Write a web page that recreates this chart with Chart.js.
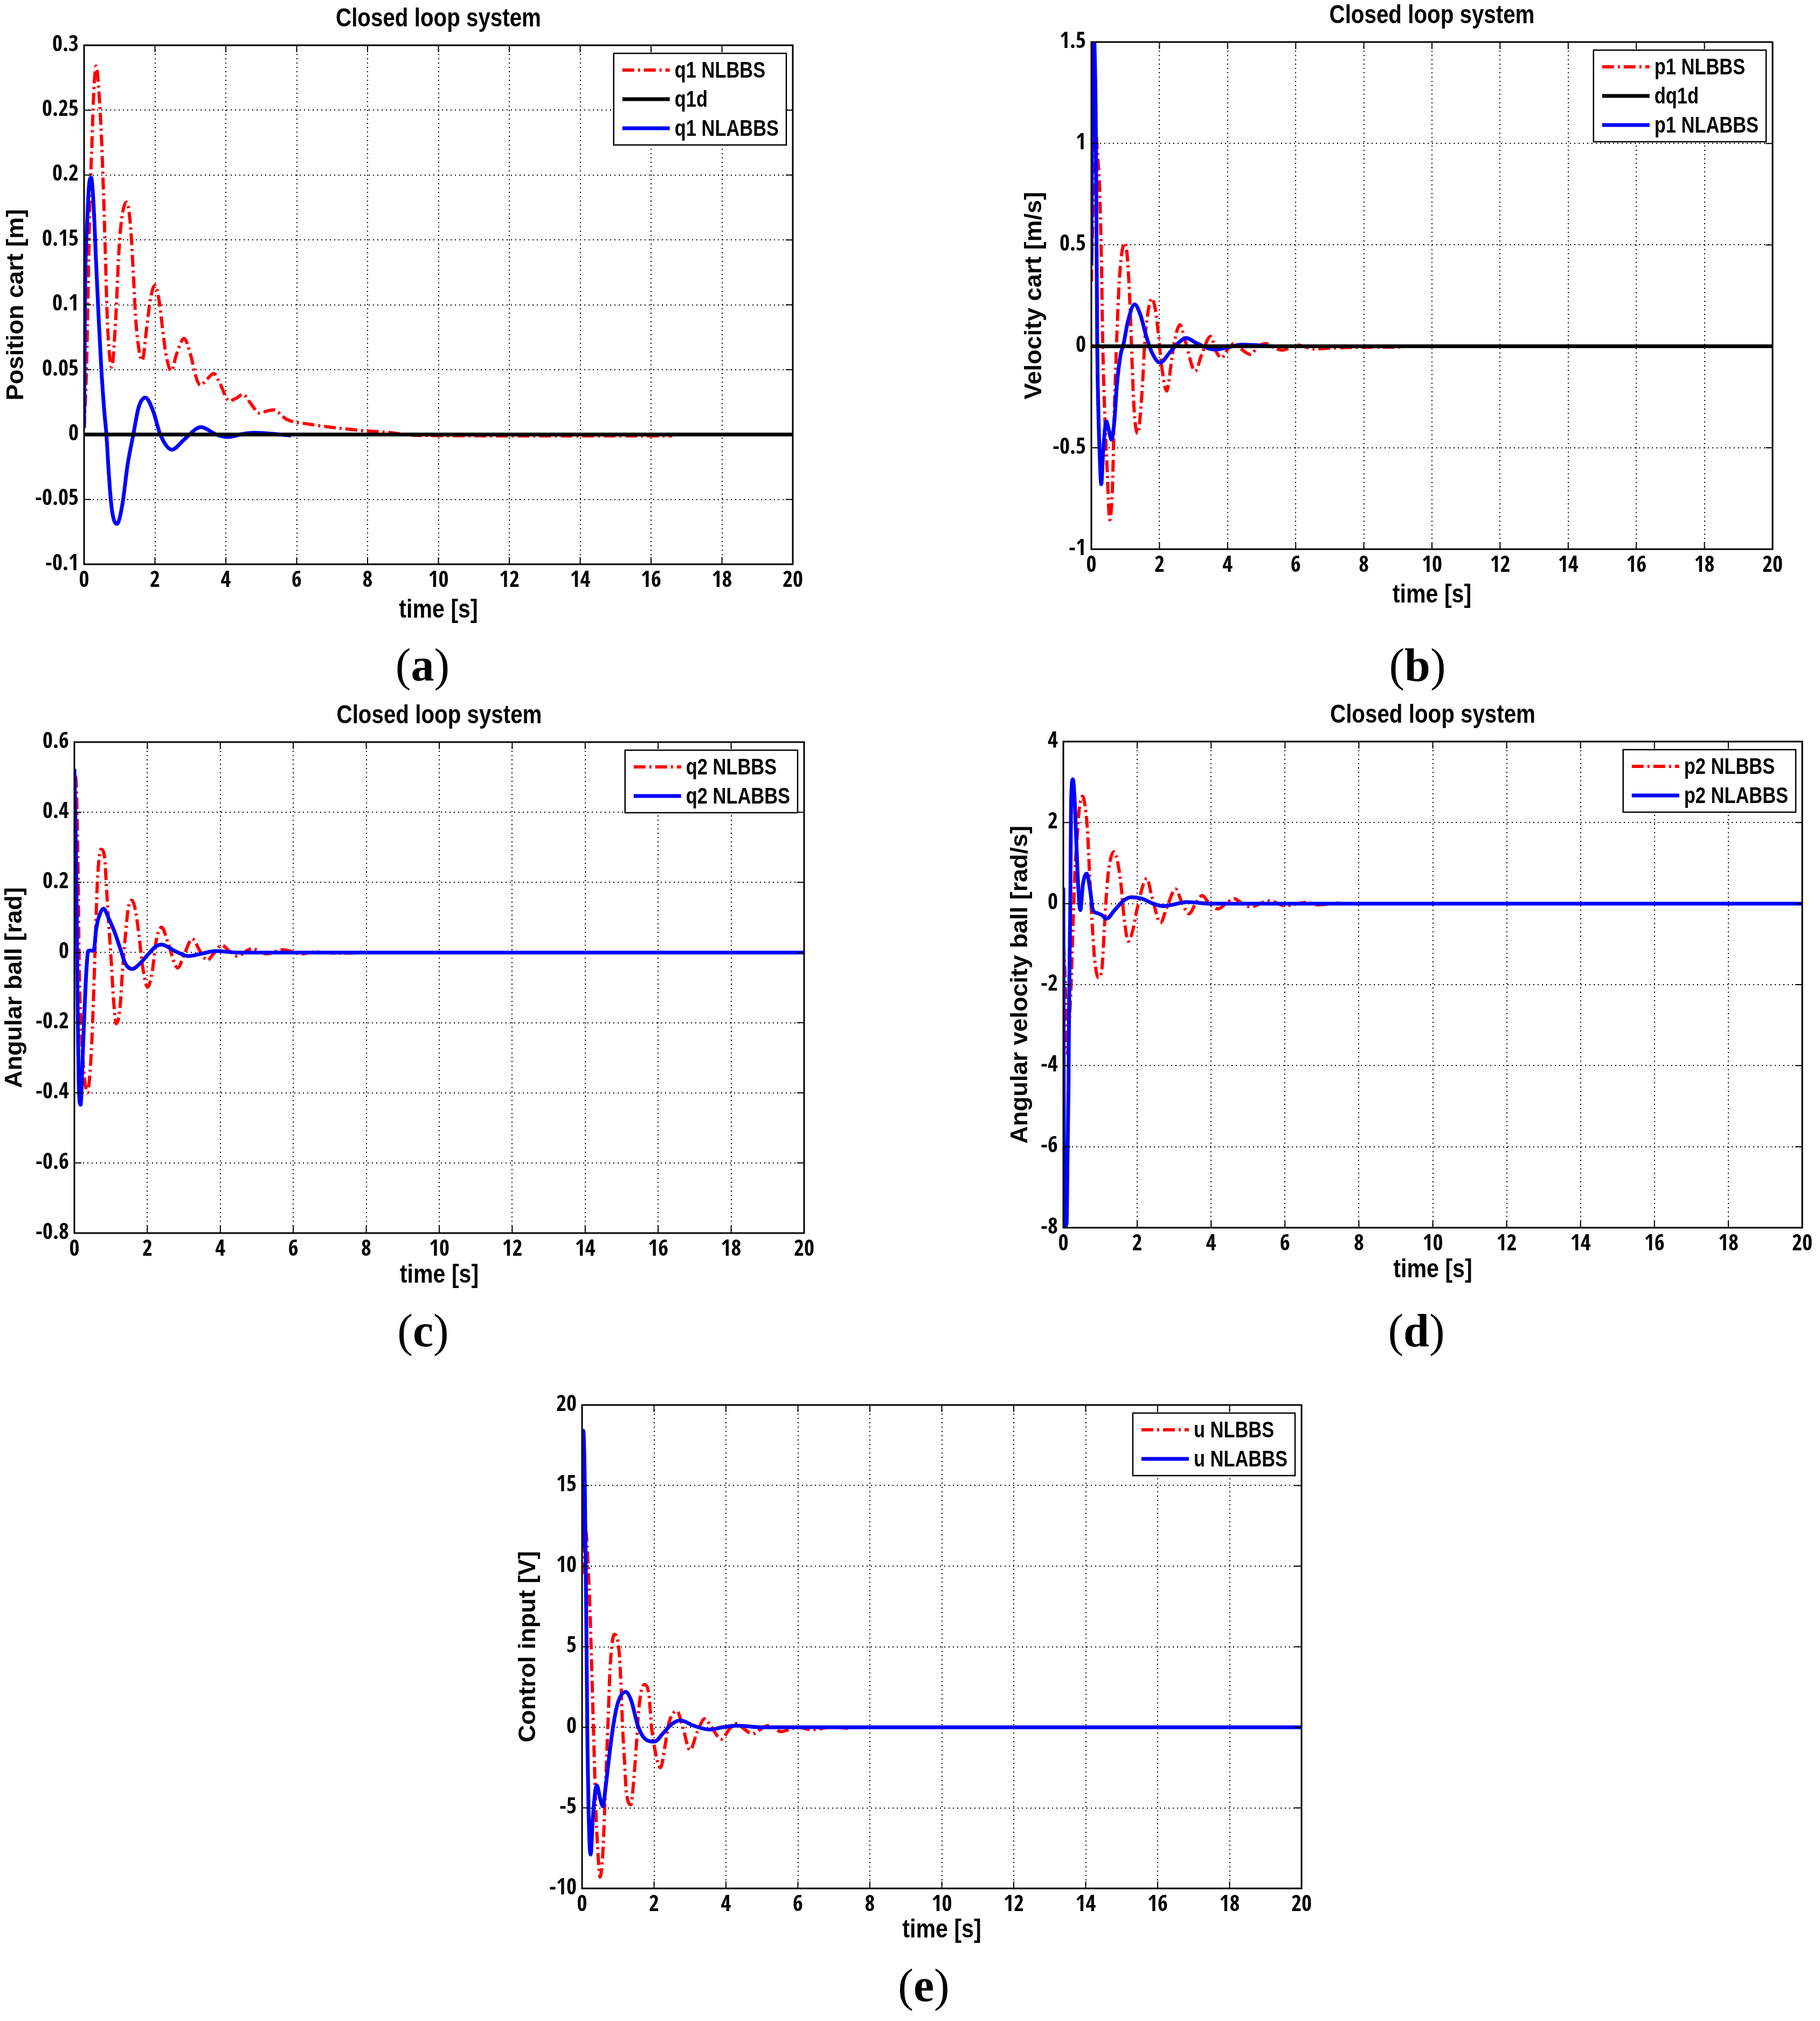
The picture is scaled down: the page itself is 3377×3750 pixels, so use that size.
<!DOCTYPE html>
<html><head><meta charset="utf-8">
<script src="https://cdn.jsdelivr.net/npm/chart.js@4.4.1/dist/chart.umd.min.js"></script>
<style>
html,body{margin:0;padding:0;background:#fff;}
#page{position:relative;width:3377px;height:3750px;background:#fff;overflow:hidden;}
#page canvas{position:absolute;}
.lbl{position:absolute;font-family:'Liberation Serif','DejaVu Serif',serif;font-size:86px;line-height:86px;color:#000;transform:translateX(-50%);white-space:nowrap;z-index:5;}
.lbl b{font-weight:bold;}
</style></head><body><div id="page"></div>
<script>
// ---------------- DATA ----------------
const xTicks = [0,2,4,6,8,10,12,14,16,18,20];
const yTicksA = [-0.1,-0.05,0,0.05,0.1,0.15,0.2,0.25,0.3];
const yTicksB = [-1,-0.5,0,0.5,1,1.5];
const yTicksC = [-0.8,-0.6,-0.4,-0.2,0,0.2,0.4,0.6];
const yTicksD = [-8,-6,-4,-2,0,2,4];
const yTicksE = [-10,-5,0,5,10,15,20];

// (a) position cart [m]
const q1NLBBS = [[0,0.005],[0.07,0.052],[0.12,0.119],[0.16,0.176],[0.22,0.223],[0.27,0.262],[0.34,0.284],[0.42,0.264],[0.5,0.223],[0.55,0.184],[0.6,0.14],[0.65,0.093],[0.7,0.067],[0.78,0.052],[0.9,0.093],[0.98,0.14],[1.06,0.166],[1.2,0.179],[1.31,0.161],[1.39,0.124],[1.46,0.088],[1.54,0.067],[1.64,0.057],[1.77,0.083],[1.87,0.104],[2.0,0.115],[2.13,0.101],[2.2,0.085],[2.31,0.062],[2.46,0.049],[2.61,0.062],[2.82,0.074],[3.02,0.06],[3.15,0.045],[3.28,0.038],[3.48,0.043],[3.66,0.047],[3.84,0.039],[4.09,0.026],[4.3,0.028],[4.48,0.031],[4.7,0.024],[4.95,0.0165],[5.15,0.018],[5.34,0.019],[5.73,0.0115],[6.35,0.008],[6.97,0.0056],[7.75,0.0033],[8.53,0.0017],[9.46,-0.0007],[12,-0.001],[16.6,-0.001]];
const q1d = [[0,0],[20,0]];
const q1NLABBS = [[0,0.005],[0.03,0.114],[0.08,0.158],[0.14,0.192],[0.2,0.198],[0.26,0.181],[0.34,0.132],[0.42,0.085],[0.49,0.049],[0.57,0.018],[0.63,0],[0.7,-0.031],[0.78,-0.057],[0.93,-0.069],[1.08,-0.054],[1.23,-0.023],[1.39,0],[1.54,0.021],[1.73,0.0285],[1.95,0.018],[2.15,0],[2.48,-0.0117],[2.82,-0.004],[3.3,0.0057],[3.73,0],[4.04,-0.002],[4.5,0.0005],[4.8,0.0013],[5.84,-0.0008]];

// (b) velocity cart [m/s]
const p1NLBBS = [[0,0.32],[0.05,0.7],[0.1,1.1],[0.18,0.95],[0.25,0.74],[0.3,0.38],[0.33,0.057],[0.38,-0.27],[0.46,-0.59],[0.54,-0.855],[0.62,-0.69],[0.67,-0.35],[0.75,0.057],[0.83,0.35],[0.99,0.51],[1.07,0.41],[1.15,0.14],[1.2,-0.1],[1.25,-0.3],[1.36,-0.43],[1.49,-0.22],[1.57,0.024],[1.65,0.155],[1.78,0.236],[1.89,0.17],[1.97,0.057],[2.07,-0.106],[2.21,-0.22],[2.34,-0.09],[2.44,0.024],[2.6,0.106],[2.76,0.024],[3.05,-0.122],[3.24,-0.04],[3.5,0.049],[3.66,-0.024],[3.82,-0.057],[4.03,-0.008],[4.22,0.016],[4.45,-0.02],[4.67,-0.04],[4.9,0.0],[5.13,0.013],[5.35,-0.005],[5.6,-0.019],[6.06,0.006],[6.52,-0.013],[7.1,-0.008],[8.0,-0.005],[9.07,-0.004]];
const dq1d = [[0,0],[20,0]];
const p1NLABBS = [[0,0.4],[0.05,1.6],[0.09,1.5],[0.13,1.11],[0.15,0.61],[0.17,0.057],[0.21,-0.35],[0.25,-0.56],[0.29,-0.68],[0.35,-0.51],[0.44,-0.37],[0.51,-0.41],[0.59,-0.46],[0.67,-0.38],[0.75,-0.19],[0.86,-0.04],[0.94,0.008],[1.07,0.12],[1.27,0.207],[1.44,0.155],[1.6,0.057],[1.76,-0.024],[2.02,-0.081],[2.29,-0.033],[2.5,0.008],[2.79,0.041],[3.08,0.016],[3.61,-0.016],[4.14,0],[4.4,0.008],[5.4,0]];

// (c) angular ball [rad]
const q2NLBBS = [[0,0.5],[0.035,0.5],[0.085,0.34],[0.11,0.16],[0.13,-0.023],[0.18,-0.2],[0.26,-0.34],[0.36,-0.4],[0.43,-0.34],[0.48,-0.25],[0.53,-0.11],[0.58,0.05],[0.63,0.2],[0.73,0.294],[0.83,0.27],[0.88,0.185],[0.95,0.068],[1.02,-0.04],[1.07,-0.13],[1.15,-0.203],[1.25,-0.158],[1.32,-0.05],[1.4,0.05],[1.47,0.122],[1.57,0.149],[1.67,0.122],[1.77,0.05],[1.87,-0.04],[2.01,-0.099],[2.14,-0.05],[2.24,0.032],[2.39,0.072],[2.58,0.023],[2.83,-0.044],[3.03,0],[3.23,0.039],[3.44,0.005],[3.64,-0.022],[3.84,0],[4.04,0.021],[4.25,0.004],[4.45,-0.01],[4.87,0.011],[5.27,-0.004],[5.71,0.008],[6.22,-0.004],[6.6,0.002],[7.2,-0.002],[8.3,0]];
const q2NLABBS = [[0,0.524],[0.05,0.25],[0.085,-0.11],[0.12,-0.38],[0.17,-0.434],[0.23,-0.29],[0.28,-0.16],[0.33,-0.05],[0.38,0.005],[0.53,0.006],[0.6,0.068],[0.68,0.104],[0.8,0.125],[0.95,0.095],[1.1,0.059],[1.25,0.0135],[1.4,-0.032],[1.59,-0.047],[1.79,-0.032],[1.99,-0.009],[2.24,0.018],[2.39,0.0226],[2.78,0.003],[3.13,-0.01],[3.5,-0.003],[3.86,0.004],[4.5,0],[20,0]];

// (d) angular velocity ball [rad/s]
const p2NLBBS = [[0,-1.0],[0.04,-1.6],[0.11,-3.7],[0.16,-2.96],[0.21,-2.0],[0.26,-0.62],[0.31,0.7],[0.38,1.71],[0.43,2.33],[0.52,2.65],[0.61,2.26],[0.66,1.71],[0.7,0.93],[0.75,0],[0.8,-0.78],[0.85,-1.4],[0.95,-1.83],[1.05,-1.56],[1.1,-0.78],[1.15,0],[1.22,0.78],[1.37,1.28],[1.49,0.93],[1.57,0.39],[1.64,-0.31],[1.76,-0.93],[1.89,-0.62],[1.99,-0.16],[2.26,0.62],[2.4,0.16],[2.63,-0.47],[2.8,-0.1],[3.04,0.36],[3.2,0.05],[3.4,-0.25],[3.58,0],[3.76,0.2],[3.95,0],[4.19,-0.13],[4.4,0],[4.63,0.12],[4.85,0],[5.06,-0.08],[5.57,0.07],[6.0,-0.05],[6.58,0.03],[6.9,-0.03],[7.45,0.02]];
const p2NLABBS = [[0,0.39],[0.025,-7.98],[0.09,-7.9],[0.11,-6.5],[0.14,-4.5],[0.16,-2.2],[0.19,0.16],[0.21,2.5],[0.26,3.07],[0.31,2.49],[0.36,1.32],[0.41,0.31],[0.46,-0.16],[0.53,0.47],[0.63,0.74],[0.73,0.31],[0.8,-0.16],[0.9,-0.23],[1.02,-0.27],[1.17,-0.37],[1.39,-0.16],[1.64,0.08],[1.84,0.16],[2.13,0.12],[2.43,0],[2.7,-0.06],[3.0,-0.02],[3.33,0.04],[4.0,0],[20,0]];

// (e) control input [V]
const uNLBBS = [[0,9.5],[0.1,12.2],[0.18,9.5],[0.23,6.6],[0.28,2.75],[0.33,-1.1],[0.38,-5.0],[0.43,-7.3],[0.5,-9.3],[0.58,-7.7],[0.63,-5.0],[0.68,-2.1],[0.73,0.8],[0.78,3.7],[0.9,5.76],[1.03,4.7],[1.08,2.75],[1.13,-0.15],[1.18,-2.1],[1.23,-4.0],[1.36,-4.8],[1.43,-3.45],[1.51,-1.1],[1.58,1.2],[1.73,2.65],[1.86,2.0],[1.93,0.04],[2.0,-1.1],[2.18,-2.5],[2.31,-1.1],[2.41,0.23],[2.64,1.0],[2.8,0],[3.0,-1.42],[3.2,-0.3],[3.41,0.53],[3.6,0],[3.87,-0.74],[4.1,-0.1],[4.3,0.23],[4.5,-0.1],[4.73,-0.4],[5.17,0.1],[5.53,-0.27],[6.0,0],[6.39,-0.15],[6.9,0],[7.4,-0.05]];
const uNLABBS = [[0,11.1],[0.035,18.4],[0.075,15.3],[0.1,10.5],[0.126,4.7],[0.15,-1.1],[0.18,-5.0],[0.21,-7.3],[0.24,-7.9],[0.3,-5.6],[0.41,-3.6],[0.5,-4.4],[0.58,-4.9],[0.65,-3.8],[0.75,-1.9],[0.85,-0.15],[0.98,1.4],[1.21,2.2],[1.36,1.7],[1.56,0.04],[1.76,-0.74],[2.01,-0.89],[2.26,-0.35],[2.51,0.23],[2.74,0.43],[3.1,0.1],[3.55,-0.14],[3.9,0],[4.3,0.1],[5,0],[20,0]];

// ---------------- FONTS ----------------
const LIB="'Liberation Sans', Arial, sans-serif";
const probe=document.createElement('canvas').getContext('2d');
function measure(font,s){ probe.font='10px monospace'; probe.font=font; if(probe.font.indexOf('monospace')>=0 && font.indexOf('monospace')<0) return null; return probe.measureText(s).width; }
function hasFamily(name){
  const s='q1 NLABBS 0123456789 Closed';
  return measure("bold 40px monospace",s)!==measure("bold 40px '"+name+"', monospace",s) ||
         measure("bold 40px serif",s)!==measure("bold 40px '"+name+"', serif",s);
}
// choose the narrowest bold sans face available for the tick labels
let TICKFONT={family:LIB, size:37, weight:'bold', lineHeight:1};
(function(){
  const cands=[];
  ['Liberation Sans Narrow','Arial Narrow','Roboto Condensed','Noto Sans Condensed','Open Sans Condensed','Noto Sans SemiCondensed','Liberation Sans'].forEach(f=>{ if(hasFamily(f)) cands.push({family:"'"+f+"'", weight:'bold'}); });
  ['Open Sans','Noto Sans','Roboto'].forEach(f=>{ if(hasFamily(f)) cands.push({family:"'"+f+"'", weight:'condensed bold'}); });
  let best=null;
  cands.forEach(c=>{
    const wd=measure(c.weight+' 42px '+c.family,'0.25');
    if(!wd) return;
    const s=42*68/wd;
    if(!best || s>best.s) best={c,s};
  });
  if(best){ TICKFONT={family:best.c.family+", "+LIB, size:Math.min(44,Math.round(best.s)), weight:best.c.weight, lineHeight:1}; }
})();

// ---------------- STYLES ----------------
const STYLE = {
  red:  {borderColor:'#ff0000', borderWidth:6, borderDash:[22,7,4,7], order:3},
  black:{borderColor:'#000000', borderWidth:7, borderDash:[], order:1},
  blue: {borderColor:'#0000ff', borderWidth:7, borderDash:[], order:2}
};

const PANELS = [
  {letter:'a', canvas:[0,0,1700,1290], plot:[156,84,1471,1047], yTicks:yTicksA, title:'Closed loop system', yTitle:'Position cart [m]', yTitleX:31, xTitleDy:85,
   series:[{label:'q1 NLBBS',data:q1NLBBS,kind:'red'},{label:'q1d',data:q1d,kind:'black'},{label:'q1 NLABBS',data:q1NLABBS,kind:'blue'}], lbl:[784,1243]},
  {letter:'b', canvas:[1700,0,1677,1290], plot:[2025,78,3289,1019], yTicks:yTicksB, title:'Closed loop system', yTitle:'Velocity cart [m/s]', yTitleX:1920, xTitleDy:85,
   series:[{label:'p1 NLBBS',data:p1NLBBS,kind:'red'},{label:'dq1d',data:dq1d,kind:'black'},{label:'p1 NLABBS',data:p1NLABBS,kind:'blue'}], lbl:[2630,1243]},
  {letter:'c', canvas:[0,1290,1700,1260], plot:[138,1377,1492,2288], yTicks:yTicksC, title:'Closed loop system', yTitle:'Angular ball [rad]', yTitleX:28, xTitleDy:78,
   series:[{label:'q2 NLBBS',data:q2NLBBS,kind:'red'},{label:'q2 NLABBS',data:q2NLABBS,kind:'blue'}], lbl:[785,2478]},
  {letter:'d', canvas:[1700,1290,1677,1260], plot:[1973,1376,3344,2278], yTicks:yTicksD, title:'Closed loop system', yTitle:'Angular velocity ball [rad/s]', yTitleX:1894, xTitleDy:78,
   series:[{label:'p2 NLBBS',data:p2NLBBS,kind:'red'},{label:'p2 NLABBS',data:p2NLABBS,kind:'blue'}], lbl:[2628,2478]},
  {letter:'e', canvas:[700,2560,2000,1190], plot:[1080,2607,2415,3504], yTicks:yTicksE, title:null, yTitle:'Control input [V]', yTitleX:981, xTitleDy:77,
   series:[{label:'u NLBBS',data:uNLBBS,kind:'red'},{label:'u NLABBS',data:uNLABBS,kind:'blue'}], lbl:[1714,3693]}
];

const page=document.getElementById('page');

// horizontally condensed bold text (MATLAB-style Helvetica Narrow look)
function narrowText(ctx,txt,x,y,size,sx,align){
  ctx.save();
  ctx.translate(x,y); ctx.scale(sx,1);
  ctx.font='bold '+size+'px '+LIB;
  ctx.textAlign=align; ctx.textBaseline='middle';
  ctx.fillText(txt,0,0);
  ctx.restore();
}
function narrowWidth(ctx,txt,size,sx){ ctx.save(); ctx.font='bold '+size+'px '+LIB; const w=ctx.measureText(txt).width*sx; ctx.restore(); return w; }

function framePlugin(p){
  const cx=p.canvas[0];
  return {
    id:'frame'+p.letter,
    afterDraw(chart){
      const ctx=chart.ctx, a=chart.chartArea, xs=chart.scales.x, ys=chart.scales.y;
      ctx.save();
      ctx.setLineDash([]);
      ctx.strokeStyle='#000';
      const TL=13;
      ctx.lineWidth=2;
      ctx.beginPath();
      xTicks.forEach(v=>{const px=xs.getPixelForValue(v);
        ctx.moveTo(px,a.bottom); ctx.lineTo(px,a.bottom-TL);
        ctx.moveTo(px,a.top); ctx.lineTo(px,a.top+TL);});
      p.yTicks.forEach(v=>{const py=ys.getPixelForValue(v);
        ctx.moveTo(a.left,py); ctx.lineTo(a.left+TL,py);
        ctx.moveTo(a.right,py); ctx.lineTo(a.right-TL,py);});
      ctx.stroke();
      ctx.lineWidth=3;
      ctx.strokeRect(a.left,a.top,a.right-a.left,a.bottom-a.top);
      ctx.fillStyle='#000';
      if(p.title) narrowText(ctx,p.title,(a.left+a.right)/2,a.top-48,48,0.84,'center');
      narrowText(ctx,'time [s]',(a.left+a.right)/2,a.bottom+p.xTitleDy,49,0.84,'center');
      ctx.save();
      ctx.translate(p.yTitleX-cx,(a.top+a.bottom)/2);
      ctx.rotate(-Math.PI/2);
      ctx.font='bold 45px '+LIB; ctx.textAlign='center'; ctx.textBaseline='middle';
      ctx.fillText(p.yTitle,0,0);
      ctx.restore();
      // legend
      const LS=42, LSX=0.82;
      const tw=Math.max(...p.series.map(s=>narrowWidth(ctx,s.label,LS,LSX)));
      const n=p.series.length;
      const bw=16+88+9+tw+14, bh=62+(n-1)*54;
      const bx=a.right-12-bw, by=a.top+15;
      ctx.fillStyle='#fff'; ctx.fillRect(bx,by,bw,bh);
      ctx.lineWidth=2.5; ctx.strokeStyle='#000'; ctx.strokeRect(bx,by,bw,bh);
      p.series.forEach((s,i)=>{
        const yy=by+31+i*54, st=STYLE[s.kind];
        ctx.save();
        ctx.strokeStyle=st.borderColor; ctx.lineWidth=st.borderWidth; ctx.setLineDash(st.borderDash);
        ctx.beginPath(); ctx.moveTo(bx+16,yy); ctx.lineTo(bx+104,yy); ctx.stroke();
        ctx.restore();
        ctx.fillStyle='#000';
        narrowText(ctx,s.label,bx+113,yy+2,LS,LSX,'left');
      });
      ctx.restore();
    }
  };
}

function makeChart(p){
  const [cx,cy,cw,ch]=p.canvas, [pl,pt,pr,pb]=p.plot;
  const cv=document.createElement('canvas');
  cv.width=cw; cv.height=ch;
  cv.style.left=cx+'px'; cv.style.top=cy+'px'; cv.style.width=cw+'px'; cv.style.height=ch+'px';
  page.appendChild(cv);
  const YW=100, XH=70;
  const datasets=p.series.map(s=>Object.assign({
    label:s.label, data:s.data.map(([x,y])=>({x,y})),
    pointRadius:0, pointHoverRadius:0, fill:false, cubicInterpolationMode:'monotone',
    borderCapStyle:'butt', borderJoinStyle:'round'
  }, STYLE[s.kind]));
  const yMin=p.yTicks[0], yMax=p.yTicks[p.yTicks.length-1];
  const gridOpts={color:'#000', lineWidth:2, drawTicks:false};
  const borderOpts={display:false, dash:[2,6]};
  new Chart(cv,{
    type:'line',
    data:{datasets},
    options:{
      responsive:false, animation:false, devicePixelRatio:1, events:[],
      layout:{padding:{left:pl-cx-YW, top:pt-cy, right:cx+cw-pr, bottom:cy+ch-pb-XH}},
      plugins:{legend:{display:false}, tooltip:{enabled:false}, title:{display:false}},
      scales:{
        x:{type:'linear', min:0, max:20,
           afterBuildTicks:s=>{s.ticks=xTicks.map(v=>({value:v}));},
           afterFit:s=>{s.height=XH;},
           ticks:{autoSkip:false, maxRotation:0, minRotation:0, padding:11, color:'#000', font:TICKFONT, callback:v=>String(v)},
           grid:gridOpts, border:borderOpts},
        y:{type:'linear', min:yMin, max:yMax,
           afterBuildTicks:s=>{s.ticks=p.yTicks.map(v=>({value:v}));},
           afterFit:s=>{s.width=YW;},
           ticks:{autoSkip:false, padding:10, color:'#000', font:TICKFONT, callback:v=>String(v)},
           grid:gridOpts, border:borderOpts}
      }
    },
    plugins:[framePlugin(p)]
  });
  const d=document.createElement('div');
  d.className='lbl';
  d.innerHTML='(<b>'+p.letter+'</b>)';
  d.style.left=p.lbl[0]+'px';
  d.style.top=(p.lbl[1]-52)+'px';
  page.appendChild(d);
}
PANELS.forEach(makeChart);
</script>
</body></html>
